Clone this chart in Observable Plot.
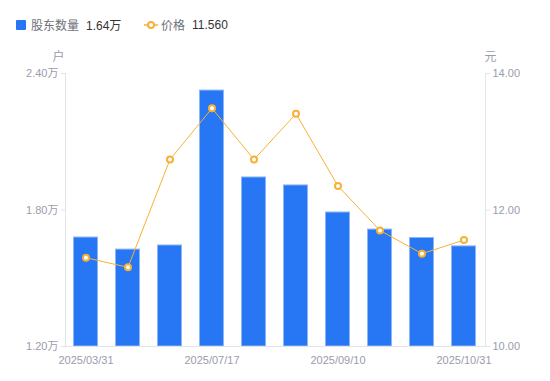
<!DOCTYPE html>
<html>
<head>
<meta charset="utf-8">
<script src="https://cdn.jsdelivr.net/npm/d3@7"></script>
<script src="https://cdn.jsdelivr.net/npm/@observablehq/plot@0.6"></script>
<style>
  body { margin: 0; background: #fff; font-family: "Liberation Sans", Arial, "Noto Sans CJK SC", sans-serif; }
  #legend { height: 45px; position: relative; font-size: 12px; }
  .lg { position: absolute; top: 16px; display: flex; align-items: center; white-space: nowrap; }
  .nm { color: #6e7079; }
  .val { color: #333; margin-left: 7px; }
</style>
</head>
<body>
<div id="legend">
  <div class="lg" style="left:16px">
    <span style="display:inline-block;width:10px;height:10px;background:#2776f3;border-radius:1px;margin-right:5px"></span>
    <span class="nm">股东数量</span><span class="val">1.64万</span>
  </div>
  <div class="lg" style="left:144px">
    <svg width="14" height="10" style="margin-right:3px"><line x1="0" y1="5" x2="14" y2="5" stroke="#f7b137" stroke-width="1.5"/><circle cx="7" cy="5" r="3" fill="#fff" stroke="#f7b137" stroke-width="2"/></svg>
    <span class="nm">价格</span><span class="val">11.560</span>
  </div>
</div>
<div id="chart"></div>
<script>
const dates = ["2025/03/31","2025/04/30","2025/06/30","2025/07/17","2025/07/31","2025/08/20","2025/09/10","2025/09/30","2025/10/20","2025/10/31"];
const holders = [1.679, 1.626, 1.644, 2.325, 1.943, 1.908, 1.789, 1.714, 1.677, 1.64];
const prices = [11.30, 11.16, 12.74, 13.49, 12.74, 13.41, 12.35, 11.70, 11.36, 11.56];
const leftTicks = [1.2, 1.8, 2.4];
const rightTicks = [10, 12, 14];
const xLabels = ["2025/03/31","2025/07/17","2025/09/10","2025/10/31"];

const toLeft = p => 1.2 + (p - 10) * (1.2 / 4);
const data = dates.map((d, i) => ({date: d, h: holders[i], p: prices[i], py: toLeft(prices[i])}));

const gray = "#9a9cab";
const axisColor = "#e3e4e8";

const chart = Plot.plot({
  width: 550,
  height: 336,
  marginTop: 28,
  marginBottom: 35,
  marginLeft: 65,
  marginRight: 65,
  style: {fontFamily: "'Liberation Sans', Arial, 'Noto Sans CJK SC', sans-serif", fontSize: "11px", color: gray},
  x: {type: "band", domain: dates, paddingInner: 0.4, paddingOuter: 0.2},
  y: {domain: [1.2, 2.4]},
  marks: [
    Plot.barY(data, {x: "date", y1: 1.2, y2: "h", fill: "#2776f3", stroke: "#8db6f8", strokeWidth: 1, insetLeft: 0.5, insetRight: 0.5}),
    Plot.ruleY([1.2], {stroke: axisColor}),
    Plot.axisY({ticks: leftTicks, tickFormat: d => d.toFixed(2) + "万", tickSize: 4, tickPadding: 3, stroke: axisColor, color: gray, label: null}),
    Plot.axisY({anchor: "right", ticks: rightTicks.map(toLeft), tickFormat: (d, i) => rightTicks[i].toFixed(2), tickSize: 4, tickPadding: 3, stroke: axisColor, color: gray, label: null}),
    Plot.axisX({ticks: xLabels, tickSize: 0, tickPadding: 10, color: gray, label: null}),
    Plot.frame({anchor: "left", stroke: axisColor}),
    Plot.frame({anchor: "right", stroke: axisColor}),
    Plot.line(data, {x: "date", y: "py", stroke: "#f7b137", strokeWidth: 1}),
    Plot.dot(data, {x: "date", y: "py", r: 3, fill: "#fff", stroke: "#f7b137", strokeWidth: 2}),
    Plot.text(["户"], {frameAnchor: "top-left", textAnchor: "middle", dx: -7, dy: -21, fill: gray, fontSize: 12}),
    Plot.text(["元"], {frameAnchor: "top-right", textAnchor: "middle", dx: 5, dy: -21, fill: gray, fontSize: 12})
  ]
});
document.getElementById("chart").appendChild(chart);
</script>
</body>
</html>
